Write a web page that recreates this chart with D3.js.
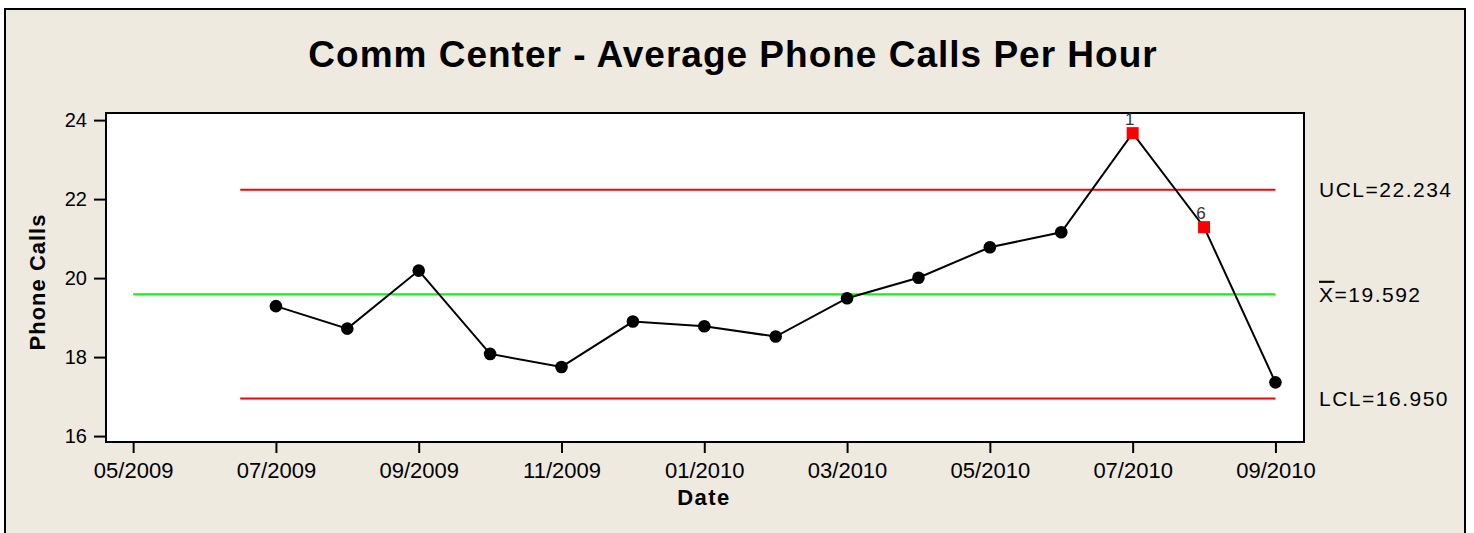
<!DOCTYPE html>
<html>
<head>
<meta charset="utf-8">
<script src="https://cdn.jsdelivr.net/npm/d3@7"></script>
<style>
  html, body { margin: 0; padding: 0; background: #fff; }
  svg { display: block; font-family: "Liberation Sans", Arial, sans-serif; }
</style>
</head>
<body>
<svg id="chart" width="1474" height="533"></svg>
<script>
// ── data ──────────────────────────────────────────
const months   = ['07/2009','08/2009','09/2009','10/2009','11/2009','12/2009','01/2010',
                  '02/2010','03/2010','04/2010','05/2010','06/2010','07/2010','08/2010','09/2010'];
const calls    = [19.29, 18.72, 20.19, 18.08, 17.75, 18.90, 18.78,
                  18.52, 19.49, 20.01, 20.78, 21.16, 23.67, 21.29, 17.36];
const flags    = [null, null, null, null, null, null, null,
                  null, null, null, null, null, '1', '6', null];
const tickLabels = ['05/2009','07/2009','09/2009','11/2009','01/2010','03/2010','05/2010','07/2010','09/2010'];
const yTicks   = [16, 18, 20, 22, 24];
const UCL = 22.234, MEAN = 19.592, LCL = 16.950;

// month index, 0 = 05/2009
const monthIdx = m => {
  const [mm, yy] = m.split('/').map(Number);
  return (yy - 2009) * 12 + (mm - 5);
};

// ── layout ────────────────────────────────────────
const svg = d3.select('#chart');
const plot = { left: 106, right: 1304, top: 113, bottom: 442 };

const x = d3.scaleLinear().domain([-0.38, 16.4]).range([plot.left, plot.right]);
const y = d3.scaleLinear().domain([15.85, 24.18]).range([plot.bottom, plot.top]);

// outer panel
svg.append('rect')
  .attr('x', 5).attr('y', 9).attr('width', 1460).attr('height', 540)
  .attr('fill', '#eeeae0').attr('stroke', '#000').attr('stroke-width', 2);

// title
svg.append('text')
  .attr('x', 733).attr('y', 67)
  .attr('text-anchor', 'middle')
  .style('font-size', '37px').style('font-weight', 'bold').style('letter-spacing', '1px')
  .text('Comm Center - Average Phone Calls Per Hour');

// plot area
svg.append('rect')
  .attr('x', plot.left).attr('y', plot.top)
  .attr('width', plot.right - plot.left).attr('height', plot.bottom - plot.top)
  .attr('fill', '#fff').attr('stroke', '#000').attr('stroke-width', 2);

// axes
const yAxis = d3.axisLeft(y).tickValues(yTicks).tickSize(12).tickPadding(7);
const gy = svg.append('g').attr('transform', `translate(${plot.left},0)`).call(yAxis);
gy.select('.domain').remove();
gy.selectAll('line').attr('stroke', '#000').attr('stroke-width', 2);
gy.selectAll('text').style('font-size', '20px').style('font-family', '"Liberation Sans", Arial, sans-serif').attr('fill', '#000');

const xAxis = d3.axisBottom(x)
  .tickValues(tickLabels.map(monthIdx))
  .tickFormat((d, i) => tickLabels[i])
  .tickSize(11).tickPadding(9);
const gx = svg.append('g').attr('transform', `translate(0,${plot.bottom})`).call(xAxis);
gx.select('.domain').remove();
gx.selectAll('line').attr('stroke', '#000').attr('stroke-width', 2);
gx.selectAll('text').style('font-size', '22px').style('font-family', '"Liberation Sans", Arial, sans-serif').attr('fill', '#000');

// axis titles
svg.append('text')
  .attr('transform', 'translate(45,282) rotate(-90)')
  .attr('text-anchor', 'middle')
  .style('font-size', '22px').style('font-weight', 'bold').style('letter-spacing', '1px')
  .text('Phone Calls');

svg.append('text')
  .attr('x', 704).attr('y', 505)
  .attr('text-anchor', 'middle')
  .style('font-size', '22px').style('font-weight', 'bold').style('letter-spacing', '1.5px')
  .text('Date');

// control limits
const limits = [
  { v: UCL,  from: 1.5, color: '#ff0000' },
  { v: MEAN, from: 0,   color: '#00ff00' },
  { v: LCL,  from: 1.5, color: '#ff0000' }
];
svg.append('g').selectAll('line')
  .data(limits)
  .join('line')
  .attr('x1', d => x(d.from)).attr('x2', x(16))
  .attr('y1', d => y(d.v)).attr('y2', d => y(d.v))
  .attr('stroke', d => d.color).attr('stroke-width', 2);

// limit labels
const labX = 1319;
const lab = svg.append('g')
  .style('font-size', '21px').style('letter-spacing', '1.5px');
lab.append('text').attr('x', labX).attr('y', y(UCL)).attr('dy', '0.36em').text('UCL=22.234');
const mt = lab.append('text').attr('x', labX).attr('y', y(MEAN)).attr('dy', '0.36em');
mt.append('tspan').style('text-decoration', 'overline').text('X');
mt.append('tspan').text('=19.592');
lab.append('text').attr('x', labX).attr('y', y(LCL)).attr('dy', '0.36em').text('LCL=16.950');

// series line
const pts = months.map((m, i) => ({ i: monthIdx(m), v: calls[i], flag: flags[i] }));
svg.append('path')
  .datum(pts)
  .attr('fill', 'none').attr('stroke', '#000').attr('stroke-width', 2)
  .attr('d', d3.line().x(d => x(d.i)).y(d => y(d.v)));

// in-control points
svg.append('g').selectAll('circle')
  .data(pts.filter(d => !d.flag))
  .join('circle')
  .attr('cx', d => x(d.i)).attr('cy', d => y(d.v)).attr('r', 6.3)
  .attr('fill', '#000');

// flagged points
const flagged = pts.filter(d => d.flag);
svg.append('g').selectAll('rect')
  .data(flagged)
  .join('rect')
  .attr('x', d => x(d.i) - 6).attr('y', d => y(d.v) - 6)
  .attr('width', 12).attr('height', 12)
  .attr('fill', '#ff0000');

svg.append('g').selectAll('text')
  .data(flagged)
  .join('text')
  .attr('x', d => x(d.i) - 3).attr('y', d => y(d.v) - 8)
  .attr('text-anchor', 'middle')
  .style('font-size', '17px').attr('fill', '#333')
  .text(d => d.flag);
</script>
</body>
</html>
